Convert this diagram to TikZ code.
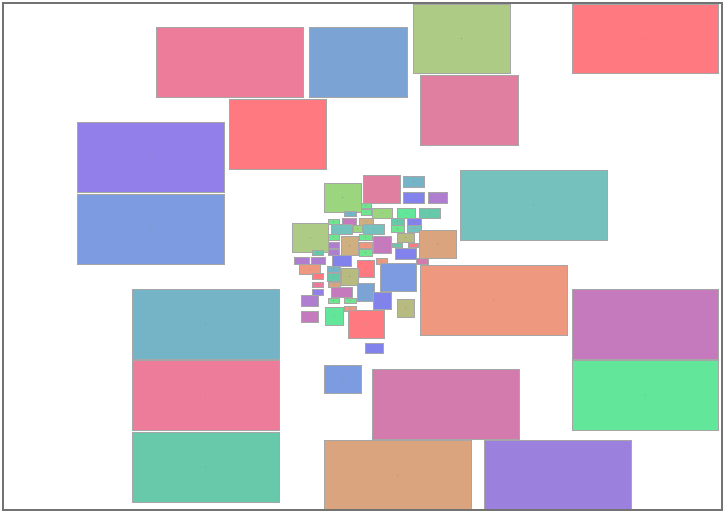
\documentclass[tikz,border=0pt]{standalone}
\usepackage{xcolor}
\definecolor{cpink}{HTML}{EC7C9A}
\definecolor{cblue}{HTML}{7BA4D4}
\definecolor{colive}{HTML}{ADCB85}
\definecolor{cred}{HTML}{FE7A80}
\definecolor{cpinkm}{HTML}{E07FA0}
\definecolor{cpurple}{HTML}{937FEA}
\definecolor{cblueb}{HTML}{7C9BE0}
\definecolor{cteal}{HTML}{74C1BE}
\definecolor{csalmon}{HTML}{EE9880}
\definecolor{cmauve}{HTML}{C47ABD}
\definecolor{cgreen}{HTML}{62E79A}
\definecolor{ctealb}{HTML}{75B3C7}
\definecolor{ctealg}{HTML}{67C9AA}
\definecolor{cpmauve}{HTML}{D47BAE}
\definecolor{ctan}{HTML}{D9A47E}
\definecolor{cpurp}{HTML}{9B80DD}
\definecolor{clgreen}{HTML}{9BD67E}
\definecolor{cbgreen}{HTML}{6EE58E}
\definecolor{cpblue}{HTML}{8282EC}
\definecolor{cpviolet}{HTML}{B07ED0}
\definecolor{colv}{HTML}{B8BB7F}
\definecolor{ctan2}{HTML}{CFAE80}
\tikzset{
  box/.style={draw=gray!70, line width=0.6pt},
  frame/.style={draw=gray!90!black, line width=1.3pt},
}
\newcommand{\bx}[5]{%
  \filldraw[box, fill=#5] (#1,#2) rectangle (#3,#4);
  \fill[black!45] ({(#1+#3)/2},{(#2+#4)/2}) circle (0.5);
}
\begin{document}
\begin{tikzpicture}[x=1pt,y=-1pt]
\useasboundingbox (0,0) rectangle (725,514);
\fill[white] (0,0) rectangle (725,514);
% large rectangles
\bx{156}{27}{303}{97}{cpink}
\bx{309}{27}{407}{97}{cblue}
\bx{413}{4}{510}{73}{colive}
\bx{572}{4}{718}{73}{cred}
\bx{420}{75}{518}{145}{cpinkm}
\bx{229}{99}{326}{169}{cred}
\bx{77}{122}{224}{192}{cpurple}
\bx{77}{194}{224}{264}{cblueb}
\bx{460}{170}{607}{240}{cteal}
\bx{420}{265}{567}{335}{csalmon}
\bx{572}{289}{718}{359}{cmauve}
\bx{572}{360}{718}{430}{cgreen}
\bx{132}{289}{279}{359}{ctealb}
\bx{132}{360}{279}{430}{cpink}
\bx{132}{432}{279}{502}{ctealg}
\bx{372}{369}{519}{439}{cpmauve}
\bx{324}{440}{471}{510}{ctan}
\bx{484}{440}{631}{510}{cpurp}
\bx{324}{365}{361}{393}{cblueb}
% central cluster
\bx{324}{183}{361}{212}{clgreen}
\bx{363}{175}{400}{203}{cpinkm}
\bx{403}{176}{424}{187}{ctealb}
\bx{403}{192}{424}{203}{cpblue}
\bx{428}{192}{447}{203}{cpviolet}
\bx{361}{203}{371}{208}{cbgreen}
\bx{344}{211}{356}{216}{ctealb}
\bx{361}{209}{371}{215}{cbgreen}
\bx{372}{208}{392}{218}{clgreen}
\bx{397}{208}{415}{218}{cgreen}
\bx{419}{208}{440}{218}{ctealg}
\bx{292}{223}{328}{252}{colive}
\bx{328}{219}{339}{224}{cbgreen}
\bx{342}{218}{356}{225}{cmauve}
\bx{359}{218}{373}{225}{ctan2}
\bx{391}{218}{404}{225}{ctealg}
\bx{407}{218}{421}{225}{cpblue}
\bx{331}{224}{352}{234}{cteal}
\bx{353}{225}{362}{232}{clgreen}
\bx{363}{224}{384}{234}{cteal}
\bx{391}{225}{404}{232}{cbgreen}
\bx{407}{225}{421}{232}{cteal}
\bx{419}{230}{456}{258}{ctan}
\bx{328}{234}{339}{240}{cbgreen}
\bx{341}{236}{358}{255}{ctan2}
\bx{359}{234}{372}{240}{cbgreen}
\bx{397}{233}{414}{242}{colv}
\bx{328}{242}{339}{248}{cpviolet}
\bx{359}{242}{372}{248}{csalmon}
\bx{373}{236}{391}{253}{cmauve}
\bx{392}{243}{402}{247}{ctealg}
\bx{408}{243}{418}{247}{cred}
\bx{328}{249}{339}{255}{cpviolet}
\bx{359}{249}{372}{256}{cbgreen}
\bx{395}{248}{416}{259}{cpblue}
\bx{312}{250}{323}{255}{ctealg}
\bx{294}{257}{309}{264}{cpviolet}
\bx{311}{257}{325}{264}{cpviolet}
\bx{332}{255}{351}{266}{cpblue}
\bx{299}{264}{320}{274}{csalmon}
\bx{327}{266}{340}{272}{ctealb}
\bx{357}{260}{374}{277}{cred}
\bx{376}{258}{387}{264}{csalmon}
\bx{416}{258}{428}{264}{cpmauve}
\bx{380}{263}{416}{291}{cblueb}
\bx{312}{273}{323}{279}{cred}
\bx{327}{273}{340}{281}{ctealg}
\bx{341}{268}{358}{285}{colv}
\bx{328}{282}{340}{287}{ctan}
\bx{312}{282}{323}{287}{cpink}
\bx{312}{289}{323}{295}{cpurple}
\bx{331}{287}{352}{297}{cmauve}
\bx{357}{283}{374}{301}{cblue}
\bx{373}{292}{391}{309}{cpblue}
\bx{301}{295}{318}{306}{cpviolet}
\bx{328}{298}{339}{303}{cbgreen}
\bx{344}{298}{356}{303}{cbgreen}
\bx{397}{299}{414}{317}{colv}
\bx{301}{311}{318}{322}{cmauve}
\bx{325}{307}{343}{325}{cgreen}
\bx{344}{306}{356}{311}{csalmon}
\bx{348}{310}{384}{338}{cred}
\bx{365}{343}{383}{353}{cpblue}
% frame
\draw[frame] (3,3) rectangle (722,510);
\end{tikzpicture}
\end{document}
